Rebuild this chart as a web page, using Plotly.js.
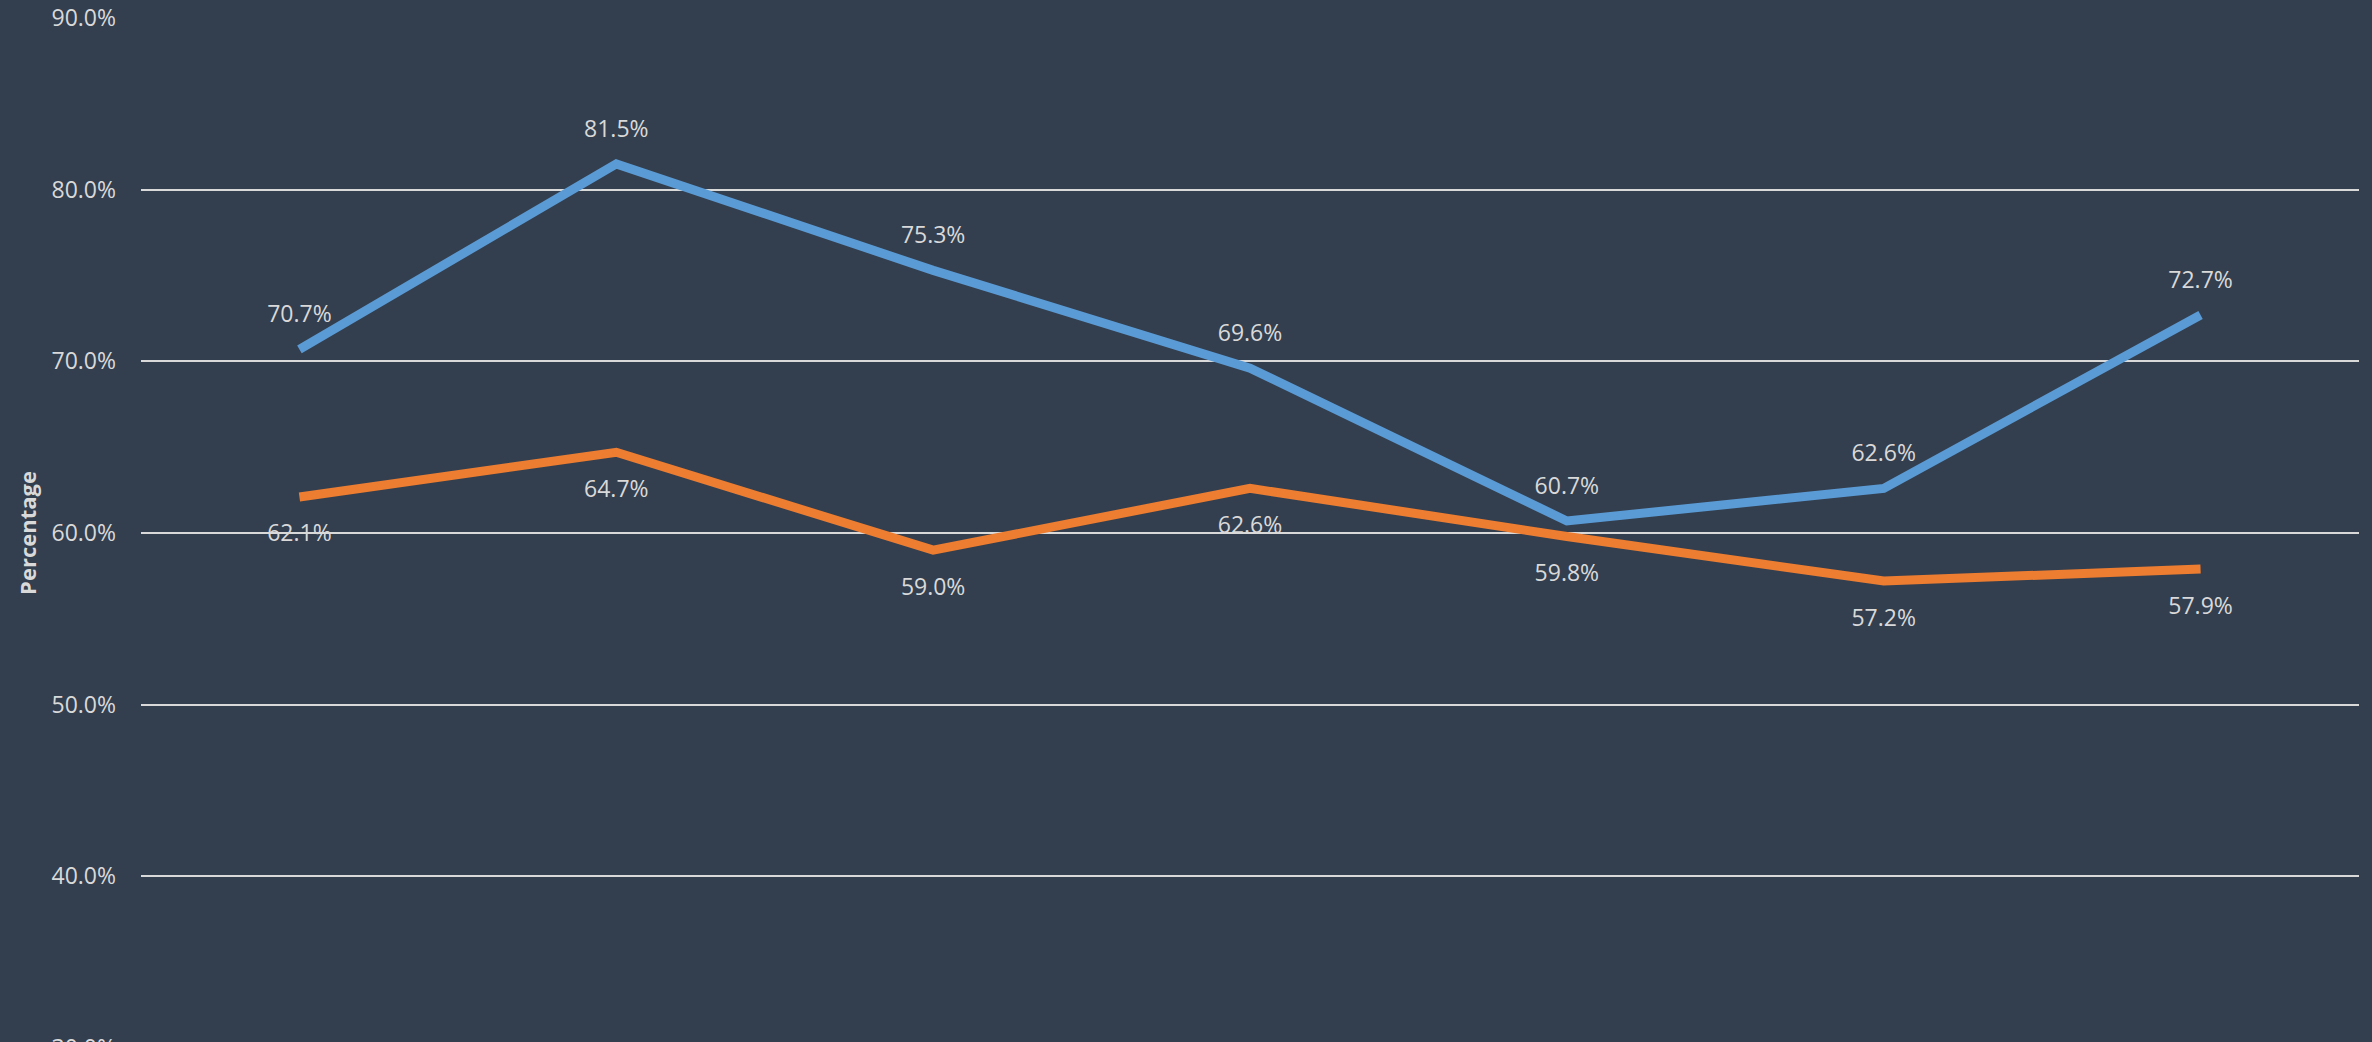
<!DOCTYPE html>
<html>
<head>
<meta charset="utf-8">
<script src="https://cdn.plot.ly/plotly-3.0.1.min.js"></script>
<style>
html, body { margin: 0; padding: 0; overflow: hidden; background: #333F4F; }
#chart { width: 2372px; height: 1250px; }
</style>
</head>
<body>
<div id="chart"></div>
<script>
// Categories (not visible in the reference frame)
const categories = ["Category 1", "Category 2", "Category 3", "Category 4", "Category 5", "Category 6", "Category 7"];
// Series values (percent)
const seriesBlue = [70.7, 81.5, 75.3, 69.6, 60.7, 62.6, 72.7];
const seriesOrange = [62.1, 64.7, 59.0, 62.6, 59.8, 57.2, 57.9];
const seriesNames = ["Series 1", "Series 2"];
// Y-axis ticks
const yTickVals = [30, 40, 50, 60, 70, 80, 90];
const yTickText = ["30.0%", "40.0%", "50.0%", "60.0%", "70.0%", "80.0%", "90.0%"];

const fmt = v => v.toFixed(1) + "%";
const labelFont = { family: "Open Sans, sans-serif", size: 23, color: "#D9D9D9" };

const traces = [
  {
    x: categories, y: seriesBlue, name: seriesNames[0], type: "scatter",
    mode: "lines+markers+text",
    line: { color: "#5B9BD5", width: 9 },
    marker: { size: 33, color: "rgba(0,0,0,0)" },
    text: seriesBlue.map(fmt), textposition: "top center", textfont: labelFont,
    hoverinfo: "skip", cliponaxis: false
  },
  {
    x: categories, y: seriesOrange, name: seriesNames[1], type: "scatter",
    mode: "lines+markers+text",
    line: { color: "#ED7D31", width: 9 },
    marker: { size: 42, color: "rgba(0,0,0,0)" },
    text: seriesOrange.map(fmt), textposition: "bottom center", textfont: labelFont,
    hoverinfo: "skip", cliponaxis: false
  }
];

const layout = {
  width: 2372, height: 1250,
  paper_bgcolor: "#333F4F", plot_bgcolor: "#333F4F",
  margin: { l: 141, r: 13, t: 18, b: 202 },
  showlegend: false,
  font: { family: "Open Sans, sans-serif", color: "#D9D9D9" },
  xaxis: {
    type: "category", range: [-0.5, 6.5],
    showgrid: false, zeroline: false, showline: false, ticks: "",
    showticklabels: false, automargin: false
  },
  yaxis: {
    range: [30, 90], tickvals: yTickVals, ticktext: yTickText,
    showgrid: true, gridcolor: "#D9D9D9", gridwidth: 2,
    zeroline: false, showline: false, ticks: "",
    ticklabelstandoff: 24,
    tickfont: { size: 23, color: "#D9D9D9" },
    title: { text: "<b>Percentage</b>", font: { size: 22, color: "#D9D9D9" }, standoff: 8 },
    automargin: "left"
  }
};

Plotly.newPlot("chart", traces, layout, { displayModeBar: false, staticPlot: true });
</script>
</body>
</html>
